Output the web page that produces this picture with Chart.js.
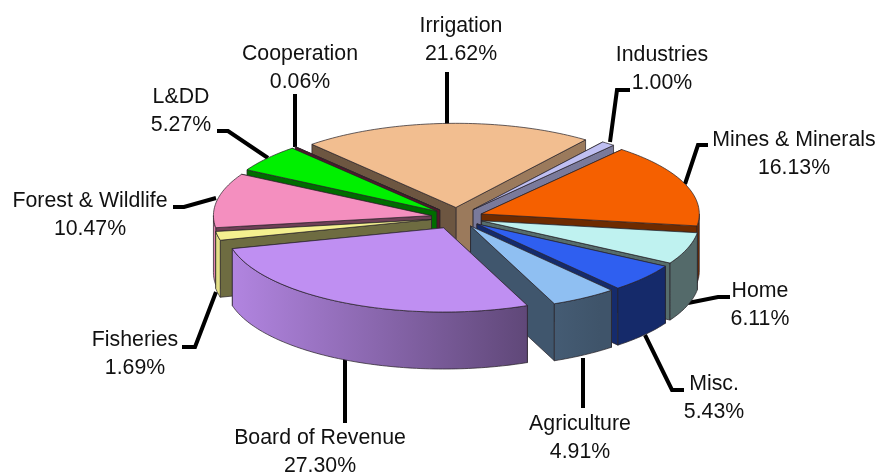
<!DOCTYPE html>
<html><head><meta charset="utf-8">
<style>html,body{margin:0;padding:0;background:#fff}#w{width:877px;height:472px;position:relative}</style>
<script src="https://cdn.jsdelivr.net/npm/chart.js@4"></script></head>
<body><div id="w"><canvas id="c" width="877" height="472"></canvas></div>
<script>
const categories = ['Industries','Mines & Minerals','Home','Misc.','Agriculture','Board of Revenue','Fisheries','Forest & Wildlife','L&DD','Cooperation','Irrigation'];
const shares = [1.00,16.13,6.11,5.43,4.91,27.30,1.69,10.47,5.27,0.06,21.62];
const shareLabels = ['1.00%','16.13%','6.11%','5.43%','4.91%','27.30%','1.69%','10.47%','5.27%','0.06%','21.62%'];
const colors = ['#BFBFF2','#F56000','#BFF2F0','#2F5FF0','#8FBFF2','#BF8FF2','#F4F090','#F48FBF','#00F000','#C03060','#F2BE90'];
const explodeBy = [26,26,26,26,26,30,26,26,26,26,26];

// label centre [x, y of first line] and leader polyline for each category
const labelPos = [[662,55],[794,140],[760,291],[714,384],[580,424],[320,438],[135,340],[90,201],[181,97],[300,54],[461,26]];
const leaders = [
 [[610,142],[617,90],[630,90]],
 [[685,184],[698,145],[708,145]],
 [[688,303],[718,297],[730,297]],
 [[645,335],[672,390],[684,390]],
 [[583,358],[583,408]],
 [[345,355],[345,423]],
 [[216,292],[195,347],[182,347]],
 [[216,198],[184,207],[173,207]],
 [[268,158],[228,131],[217,131]],
 [[295,147],[295,94]],
 [[447,124],[447,72]]
];
const TILT = 0.386, DEPTH = 57;

function rgb(h){return [1,3,5].map(i=>parseInt(h.substr(i,2),16));}
function shade(h,f){const c=rgb(h);return `rgb(${c.map(v=>Math.round(v*f)).join(',')})`;}

const pie3d = {
  id:'pie3d',
  beforeDatasetsDraw(chart){
    const ctx = chart.ctx, meta = chart.getDatasetMeta(0);
    const slices = meta.data.map((arc,i)=>{
      const p = arc.getProps(['x','y','startAngle','endAngle','outerRadius']);
      const mid = (p.startAngle+p.endAngle)/2;
      const off = arc.options.offset;
      return {i, p, mid, ox:Math.cos(mid)*off, oy:Math.sin(mid)*off, color:colors[i]};
    }).sort((a,b)=>Math.sin(a.mid)-Math.sin(b.mid));

    ctx.save();
    ctx.lineJoin='round';
    ctx.strokeStyle='rgba(40,35,40,0.9)';
    ctx.lineWidth=0.8;
    // leaders go under the pie
    ctx.save();ctx.strokeStyle='#000';ctx.lineWidth=4;ctx.lineJoin='miter';
    leaders.forEach(l=>{ctx.beginPath();l.forEach((q,k)=>k?ctx.lineTo(q[0],q[1]):ctx.moveTo(q[0],q[1]));ctx.stroke();});
    ctx.restore();

    for(const s of slices){
      const {p,ox,oy,color}=s, cy=p.y, R=p.outerRadius;
      const P=(a,r,d)=>[p.x+ox+Math.cos(a)*r, cy+(oy+Math.sin(a)*r)*TILT+(d||0)];
      const apex=P(0,0);
      const wall=(a,nx,ny)=>{
        const e=P(a,R);
        return {ny, draw(){
          ctx.beginPath();ctx.moveTo(apex[0],apex[1]);ctx.lineTo(e[0],e[1]);ctx.lineTo(e[0],e[1]+DEPTH);ctx.lineTo(apex[0],apex[1]+DEPTH);ctx.closePath();
          ctx.fillStyle=shade(color,nx>0.5?0.64:0.45);ctx.fill();ctx.stroke();
        }};
      };
      // outward normals of the two radial faces
      const w1=wall(p.startAngle,Math.sin(p.startAngle),-Math.cos(p.startAngle));
      const w2=wall(p.endAngle,-Math.sin(p.endAngle),Math.cos(p.endAngle));
      [w1,w2].sort((a,b)=>a.ny-b.ny).forEach(w=>w.draw());

      // rim: only the part of the arc that faces the viewer
      const visible=[];
      for(let k=-1;k<=1;k++){
        const lo=Math.max(p.startAngle,2*Math.PI*k), hi=Math.min(p.endAngle,Math.PI+2*Math.PI*k);
        if(hi>lo)visible.push([lo,hi]);
      }
      for(const [lo,hi] of visible){
        const n=Math.max(2,Math.ceil((hi-lo)/0.02));
        ctx.beginPath();
        for(let j=0;j<=n;j++){const q=P(lo+(hi-lo)*j/n,R);j?ctx.lineTo(q[0],q[1]):ctx.moveTo(q[0],q[1]);}
        for(let j=n;j>=0;j--){const q=P(lo+(hi-lo)*j/n,R,DEPTH);ctx.lineTo(q[0],q[1]);}
        ctx.closePath();
        const g=ctx.createLinearGradient(230,0,600,0);
        g.addColorStop(0,shade(color,0.93));
        g.addColorStop(0.8,shade(color,0.5));
        g.addColorStop(1,shade(color,0.44));
        ctx.fillStyle=g;ctx.fill();ctx.stroke();
      }
      // top face
      const n=Math.max(2,Math.ceil((p.endAngle-p.startAngle)/0.02));
      ctx.beginPath();ctx.moveTo(apex[0],apex[1]);
      for(let j=0;j<=n;j++){const q=P(p.startAngle+(p.endAngle-p.startAngle)*j/n,R);ctx.lineTo(q[0],q[1]);}
      ctx.closePath();ctx.fillStyle=color;ctx.fill();ctx.stroke();
    }
    // labels
    ctx.fillStyle='#111';ctx.textAlign='center';ctx.textBaseline='middle';
    ctx.font='21.3px "Liberation Sans"';
    categories.forEach((c,i)=>{
      const [x,y]=labelPos[i];
      ctx.fillText(c,x,y);
      ctx.fillText(shareLabels[i],x,y+28);
    });
    ctx.restore();
    return false;
  }
};

new Chart(document.getElementById('c'),{
  type:'pie',
  data:{labels:categories,datasets:[{data:shares,backgroundColor:colors,offset:explodeBy,borderWidth:0}]},
  options:{
    responsive:false,animation:false,rotation:36.5,radius:218,
    layout:{padding:{left:37,right:0,top:0,bottom:37}},
    plugins:{legend:{display:false},tooltip:{enabled:false},title:{display:false}}
  },
  plugins:[pie3d]
});
</script></body></html>
